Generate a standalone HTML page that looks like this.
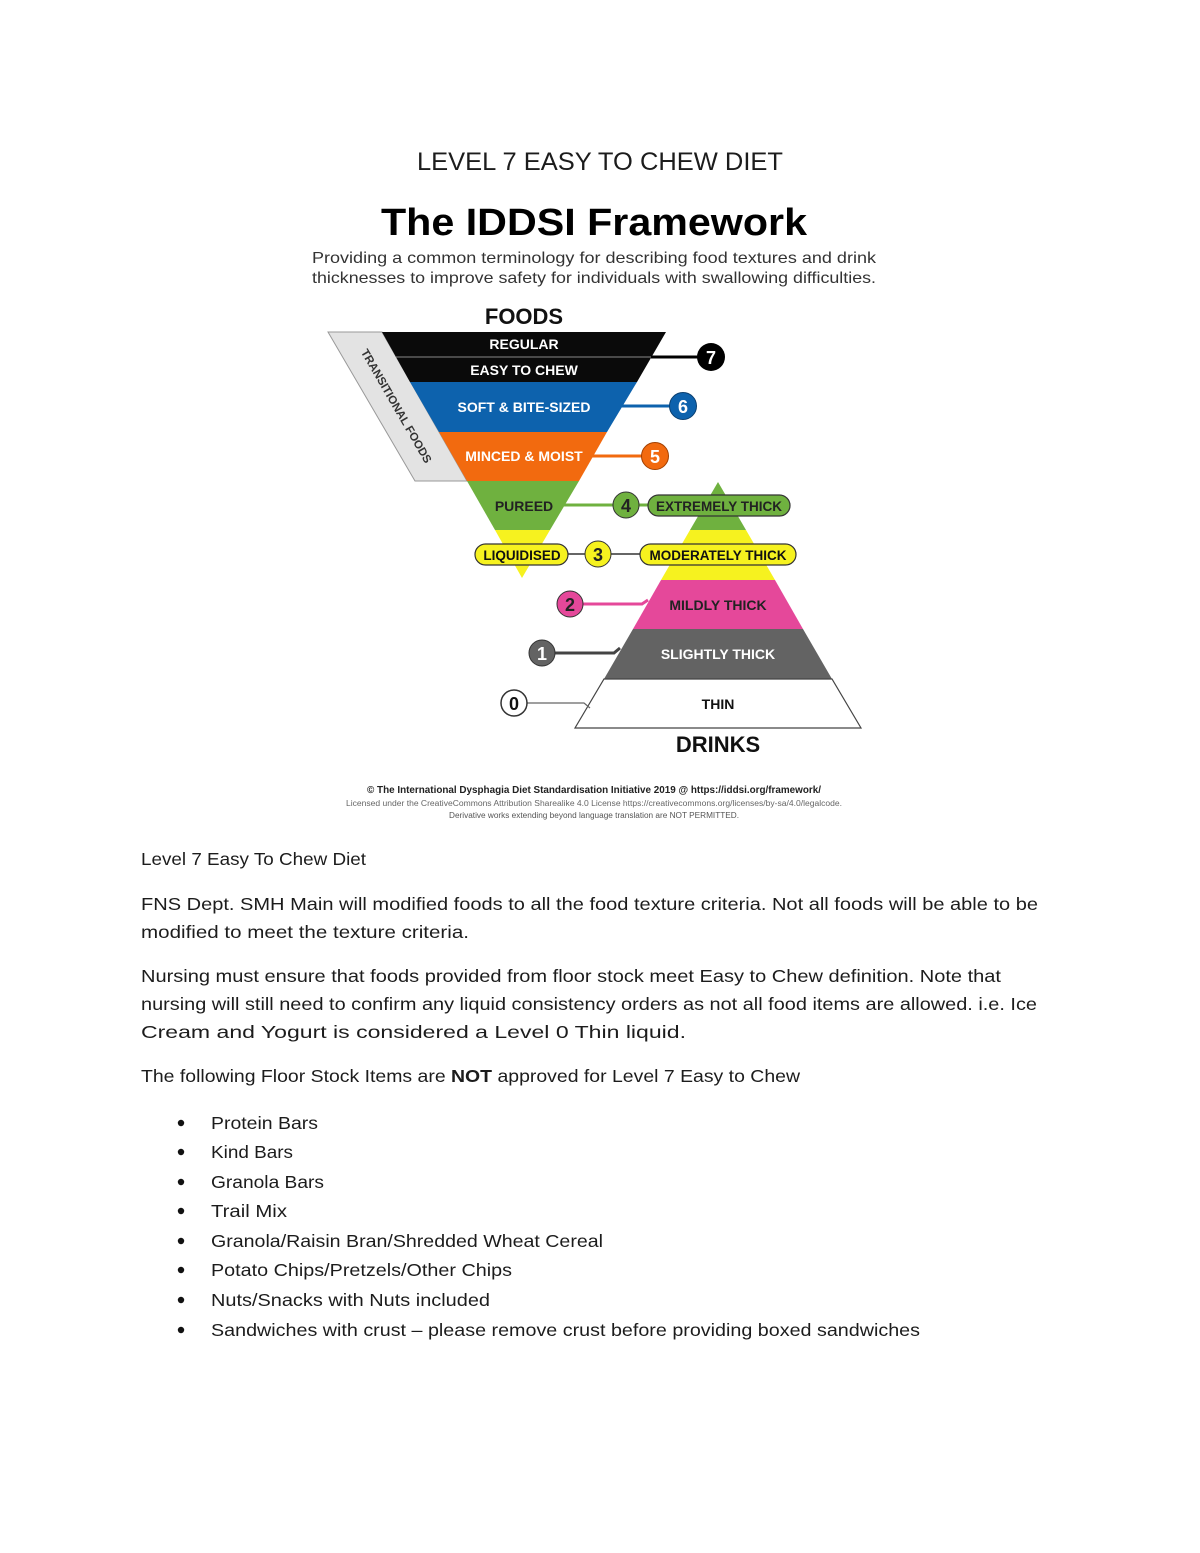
<!DOCTYPE html>
<html><head><meta charset="utf-8"><style>
html,body{margin:0;padding:0;background:#fff;width:1200px;height:1553px;overflow:hidden}
svg{display:block}
.b{font-family:"Liberation Sans",sans-serif;font-size:17.5px;fill:#1c1c1c}
.d{font-family:"Liberation Sans",sans-serif;font-weight:bold}
</style></head><body>
<svg width="1200" height="1553" viewBox="0 0 1200 1553" xmlns="http://www.w3.org/2000/svg">
<text x="417" y="170" class="b" style="font-size:25px" textLength="366" lengthAdjust="spacingAndGlyphs">LEVEL 7 EASY TO CHEW DIET</text>
<text x="594" y="235" text-anchor="middle" class="d" style="font-size:38px" fill="#000" textLength="426" lengthAdjust="spacingAndGlyphs">The IDDSI Framework</text>
<text x="312" y="263" font-family="Liberation Sans" font-size="16" fill="#333" textLength="564" lengthAdjust="spacingAndGlyphs">Providing a common terminology for describing food textures and drink</text>
<text x="312" y="283" font-family="Liberation Sans" font-size="16" fill="#333" textLength="564" lengthAdjust="spacingAndGlyphs">thicknesses to improve safety for individuals with swallowing difficulties.</text>
<text x="524" y="324" text-anchor="middle" class="d" font-size="22" fill="#111">FOODS</text>
<!-- transitional -->
<polygon points="328,332 382,332 467,481 415,481" fill="#e3e3e3" stroke="#999" stroke-width="1"/>
<text transform="translate(393,408) rotate(60)" text-anchor="middle" class="d" font-size="11.5" fill="#333">TRANSITIONAL FOODS</text>
<!-- foods triangle -->
<polygon points="382,332 666,332 637,382 410,382" fill="#0a0a0a"/>
<line x1="396" y1="357" x2="652" y2="357" stroke="#888" stroke-width="1"/>
<polygon points="410,382 637,382 607,432 439,432" fill="#0d62ad"/>
<polygon points="439,432 607,432 579,481 467,481" fill="#f26a0f"/>
<polygon points="467,481 579,481 550,530 495,530" fill="#6fb13f"/>
<polygon points="495,530 550,530 522,578" fill="#f6f21f"/>
<text x="524" y="349" text-anchor="middle" class="d" font-size="14" fill="#fff">REGULAR</text>
<text x="524" y="375" text-anchor="middle" class="d" font-size="14" fill="#fff">EASY TO CHEW</text>
<text x="524" y="412" text-anchor="middle" class="d" font-size="14" fill="#fff">SOFT &amp; BITE-SIZED</text>
<text x="524" y="461" text-anchor="middle" class="d" font-size="14" fill="#fff">MINCED &amp; MOIST</text>
<text x="524" y="511" text-anchor="middle" class="d" font-size="14" fill="#222">PUREED</text>
<!-- drinks triangle -->
<polygon points="718,482 746,530 690,530" fill="#6fb13f"/>
<polygon points="690,530 746,530 775,580 661,580" fill="#f6f21f"/>
<polygon points="661,580 775,580 803,629 633,629" fill="#e5489a"/>
<polygon points="633,629 803,629 832,679 604,679" fill="#636363"/>
<polygon points="604,679 832,679 861,728 575,728" fill="#fff" stroke="#444" stroke-width="1.2"/>
<text x="718" y="610" text-anchor="middle" class="d" font-size="14" fill="#222">MILDLY THICK</text>
<text x="718" y="659" text-anchor="middle" class="d" font-size="14" fill="#fff">SLIGHTLY THICK</text>
<text x="718" y="709" text-anchor="middle" class="d" font-size="14" fill="#111">THIN</text>
<text x="718" y="752" text-anchor="middle" class="d" font-size="22" fill="#111">DRINKS</text>
<!-- connectors -->
<g stroke-width="3">
<line x1="651" y1="357" x2="711" y2="357" stroke="#000"/>
<line x1="616" y1="406" x2="683" y2="406" stroke="#0d62ad"/>
<line x1="587" y1="456" x2="655" y2="456" stroke="#f26a0f"/>
<line x1="558" y1="505" x2="650" y2="505" stroke="#6fb13f"/>
<line x1="566" y1="554" x2="642" y2="554" stroke="#333" stroke-width="1.5"/>
<polyline points="570,604 642,604 648,600" fill="none" stroke="#e5489a"/>
<polyline points="542,653 614,653 620,648" fill="none" stroke="#444"/>
<polyline points="514,703 584,703 590,708" fill="none" stroke="#666" stroke-width="1.2"/>
</g>
<!-- pills -->
<rect x="648" y="495" width="142" height="21" rx="10.5" fill="#6fb13f" stroke="#333" stroke-width="1.2"/>
<text x="719" y="511" text-anchor="middle" class="d" font-size="13.5" fill="#222">EXTREMELY THICK</text>
<rect x="640" y="544" width="156" height="21" rx="10.5" fill="#f6f21f" stroke="#333" stroke-width="1.2"/>
<text x="718" y="560" text-anchor="middle" class="d" font-size="13.5" fill="#111">MODERATELY THICK</text>
<rect x="475" y="544" width="93" height="21" rx="10.5" fill="#f6f21f" stroke="#333" stroke-width="1.2"/>
<text x="522" y="560" text-anchor="middle" class="d" font-size="13.5" fill="#111">LIQUIDISED</text>
<!-- circles -->
<g class="d" font-size="18" text-anchor="middle">
<circle cx="711" cy="357" r="14" fill="#000"/><text x="711" y="364" fill="#fff">7</text>
<circle cx="683" cy="406" r="13.5" fill="#0d62ad" stroke="#0a3f70"/><text x="683" y="413" fill="#fff">6</text>
<circle cx="655" cy="456" r="13.5" fill="#f26a0f" stroke="#a34000"/><text x="655" y="463" fill="#fff">5</text>
<circle cx="626" cy="505" r="13" fill="#6fb13f" stroke="#333"/><text x="626" y="512" fill="#222">4</text>
<circle cx="598" cy="554" r="13" fill="#f6f21f" stroke="#333"/><text x="598" y="561" fill="#222">3</text>
<circle cx="570" cy="604" r="13" fill="#e5489a" stroke="#333"/><text x="570" y="611" fill="#222">2</text>
<circle cx="542" cy="653" r="13" fill="#636363" stroke="#333"/><text x="542" y="660" fill="#fff">1</text>
<circle cx="514" cy="703" r="13" fill="#fff" stroke="#333" stroke-width="1.5"/><text x="514" y="710" fill="#111">0</text>
</g>
<text x="594" y="793" text-anchor="middle" class="d" font-size="10" fill="#222" textLength="454" lengthAdjust="spacingAndGlyphs">© The International Dysphagia Diet Standardisation Initiative 2019 @ https://iddsi.org/framework/</text>
<text x="594" y="806" text-anchor="middle" font-family="Liberation Sans" font-size="8" fill="#666" textLength="496" lengthAdjust="spacingAndGlyphs">Licensed under the CreativeCommons Attribution Sharealike 4.0 License https://creativecommons.org/licenses/by-sa/4.0/legalcode.</text>
<text x="594" y="818" text-anchor="middle" font-family="Liberation Sans" font-size="8" fill="#555" textLength="290" lengthAdjust="spacingAndGlyphs">Derivative works extending beyond language translation are NOT PERMITTED.</text>
<!-- body -->
<text x="141" y="865" class="b" textLength="225" lengthAdjust="spacingAndGlyphs">Level 7 Easy To Chew Diet</text>
<text x="141" y="910" class="b" textLength="897" lengthAdjust="spacingAndGlyphs">FNS Dept. SMH Main will modified foods to all the food texture criteria. Not all foods will be able to be</text>
<text x="141" y="938" class="b" textLength="328" lengthAdjust="spacingAndGlyphs">modified to meet the texture criteria.</text>
<text x="141" y="982" class="b" textLength="860" lengthAdjust="spacingAndGlyphs">Nursing must ensure that foods provided from floor stock meet Easy to Chew definition. Note that</text>
<text x="141" y="1010" class="b" textLength="896" lengthAdjust="spacingAndGlyphs">nursing will still need to confirm any liquid consistency orders as not all food items are allowed. i.e. Ice</text>
<text x="141" y="1038" class="b" textLength="545" lengthAdjust="spacingAndGlyphs">Cream and Yogurt is considered a Level 0 Thin liquid.</text>
<text x="141" y="1082" class="b" textLength="659" lengthAdjust="spacingAndGlyphs">The following Floor Stock Items are <tspan font-weight="bold">NOT</tspan> approved for Level 7 Easy to Chew</text>
<g fill="#111">
<circle cx="181" cy="1123" r="3.2"/><circle cx="181" cy="1152" r="3.2"/><circle cx="181" cy="1182" r="3.2"/><circle cx="181" cy="1211" r="3.2"/>
<circle cx="181" cy="1241" r="3.2"/><circle cx="181" cy="1270" r="3.2"/><circle cx="181" cy="1300" r="3.2"/><circle cx="181" cy="1330" r="3.2"/>
</g>
<text x="211" y="1129" class="b" textLength="107" lengthAdjust="spacingAndGlyphs">Protein Bars</text>
<text x="211" y="1158" class="b" textLength="82" lengthAdjust="spacingAndGlyphs">Kind Bars</text>
<text x="211" y="1188" class="b" textLength="113" lengthAdjust="spacingAndGlyphs">Granola Bars</text>
<text x="211" y="1217" class="b" textLength="76" lengthAdjust="spacingAndGlyphs">Trail Mix</text>
<text x="211" y="1247" class="b" textLength="392" lengthAdjust="spacingAndGlyphs">Granola/Raisin Bran/Shredded Wheat Cereal</text>
<text x="211" y="1276" class="b" textLength="301" lengthAdjust="spacingAndGlyphs">Potato Chips/Pretzels/Other Chips</text>
<text x="211" y="1306" class="b" textLength="279" lengthAdjust="spacingAndGlyphs">Nuts/Snacks with Nuts included</text>
<text x="211" y="1336" class="b" textLength="709" lengthAdjust="spacingAndGlyphs">Sandwiches with crust – please remove crust before providing boxed sandwiches</text>
</svg>
</body></html>
